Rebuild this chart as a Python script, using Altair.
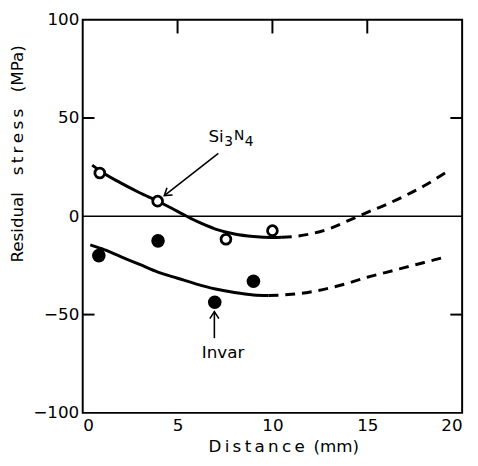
import altair as alt
import pandas as pd

# measured points
si_pts_x = [0.9, 3.95, 7.55, 10.0]
si_pts_y = [22.0, 7.7, -11.7, -7.3]
inv_pts_x = [0.85, 3.97, 6.96, 9.0]
inv_pts_y = [-20.0, -12.5, -43.7, -33.0]

# fitted curves (solid) and extrapolations (dashed)
si_fit_x = [0.5, 1, 2, 3, 4, 5, 6, 7, 8, 9, 10, 10.5]
si_fit_y = [26, 22.5, 17, 12, 7.5, 2.5, -2.5, -6.5, -9, -10.3, -10.8, -10.7]
si_ext_x = [10.5, 11, 12, 13, 14, 15, 16, 17, 18, 19.1]
si_ext_y = [-10.7, -10.4, -9, -6.3, -2.2, 2, 6, 10.5, 15.5, 22]
inv_fit_x = [0.4, 1, 2, 3, 4, 5, 6, 7, 8, 9, 9.8]
inv_fit_y = [-14.5, -16.5, -20.5, -24.5, -28.5, -31.5, -34.5, -37, -38.8, -40, -40.3]
inv_ext_x = [9.8, 11, 12, 13, 14, 15, 16, 17, 18, 19]
inv_ext_y = [-40.3, -39.7, -38.5, -36.5, -34, -31, -28.5, -26, -23.5, -21]

x_ticks = [0, 5, 10, 15, 20]
y_ticks = [-100, -50, 0, 50, 100]
top_inner_ticks = [5, 10, 15]
side_inner_ticks = [-50, 50]

# annotations
si_label_parts = ["Si", "3", "N", "4"]
si_label_pos = [6.63, 40.5]
si_arrow = [7.15, 32.0, 4.3, 10.5]      # x tail, y tail, x head, y head
inv_label = "Invar"
inv_label_pos = [7.4, -69.5]
inv_arrow = [6.94, -62.0, 6.94, -48.5]

x_title = "D\u2009i\u2009s\u2009t\u2009a\u2009n\u2009c\u2009e\u2009 (mm)"
y_title = "Residual\u2002\u2002s\u2009t\u2009r\u2009e\u2009s\u2009s\u2002\u2002(MPa)"

W, H = 386, 400
FONT = "DejaVu Sans"

xs = alt.Scale(domain=[0, 20], nice=False, zero=False)
ys = alt.Scale(domain=[-100, 100], nice=False, zero=False)


def df(x, y):
    return pd.DataFrame({"x": x, "y": y})


def XX():
    return alt.X("x:Q", scale=xs)


def YY():
    return alt.Y("y:Q", scale=ys)


X = alt.X("x:Q", scale=xs,
          axis=alt.Axis(values=x_ticks, tickSize=0, domain=False, grid=False,
                        labelFont=FONT, labelFontSize=17, labelPadding=5,
                        labelColor="black", title=x_title,
                        titleFont=FONT, titleFontSize=17, titleFontWeight="normal",
                        titleX=204, titleY=34, titleAlign="center",
                        titleBaseline="middle", titleColor="black"))
Y = alt.Y("y:Q", scale=ys,
          axis=alt.Axis(values=y_ticks, tickSize=0, domain=False, grid=False,
                        labelFont=FONT, labelFontSize=17, labelPadding=4,
                        labelColor="black", title=y_title,
                        titleFont=FONT, titleFontSize=17, titleFontWeight="normal",
                        titleX=-66, titleY=136, titleAngle=-90, titleAlign="center",
                        titleBaseline="middle", titleColor="black"))

zero = alt.Chart(pd.DataFrame({"y": [0]})).mark_rule(color="black", strokeWidth=1.5).encode(y=YY())

si_fit = alt.Chart(df(si_fit_x, si_fit_y)).mark_line(color="black", strokeWidth=3, interpolate="monotone").encode(x=X, y=Y)
si_ext = alt.Chart(df(si_ext_x, si_ext_y)).mark_line(color="black", strokeWidth=3, strokeDash=[10, 7], interpolate="monotone").encode(x=XX(), y=YY())
inv_fit = alt.Chart(df(inv_fit_x, inv_fit_y)).mark_line(color="black", strokeWidth=3, interpolate="monotone").encode(x=XX(), y=YY())
inv_ext = alt.Chart(df(inv_ext_x, inv_ext_y)).mark_line(color="black", strokeWidth=3, strokeDash=[10, 7], interpolate="monotone").encode(x=XX(), y=YY())

si_pts = alt.Chart(df(si_pts_x, si_pts_y)).mark_point(shape="circle", filled=True, fill="white", stroke="black", strokeWidth=2.8, size=100, opacity=1).encode(x=XX(), y=YY())
inv_pts = alt.Chart(df(inv_pts_x, inv_pts_y)).mark_point(shape="circle", filled=True, color="black", size=190, opacity=1).encode(x=XX(), y=YY())

arrows_df = pd.DataFrame({
    "x": [si_arrow[0], inv_arrow[0]], "y": [si_arrow[1], inv_arrow[1]],
    "x2": [si_arrow[2], inv_arrow[2]], "y2": [si_arrow[3], inv_arrow[3]],
})
shafts = alt.Chart(arrows_df).mark_rule(color="black", strokeWidth=1.6).encode(
    x=XX(), y=YY(), x2="x2:Q", y2="y2:Q")

heads_df = pd.DataFrame({"x": [si_arrow[2], inv_arrow[2]], "y": [si_arrow[3], inv_arrow[3]], "a": [142, 270]})
heads = alt.Chart(heads_df).mark_point(shape="M-1,-0.65L0,0L-1,0.65", filled=False, stroke="black", strokeWidth=1.6, size=200, opacity=1).encode(
    x=XX(), y=YY(), angle=alt.Angle("a:Q", scale=None))

si_df = pd.DataFrame({"x": [si_label_pos[0]], "y": [si_label_pos[1]]})
si_text = [
    alt.Chart(si_df).mark_text(text=si_label_parts[0], font=FONT, fontSize=17, align="left", baseline="middle", dx=0, dy=0, color="black").encode(x=XX(), y=YY()),
    alt.Chart(si_df).mark_text(text=si_label_parts[1], font=FONT, fontSize=14, align="left", baseline="middle", dx=16, dy=5, color="black").encode(x=XX(), y=YY()),
    alt.Chart(si_df).mark_text(text=si_label_parts[2], font=FONT, fontSize=14, align="left", baseline="middle", dx=26, dy=-1, color="black").encode(x=XX(), y=YY()),
    alt.Chart(si_df).mark_text(text=si_label_parts[3], font=FONT, fontSize=14, align="left", baseline="middle", dx=37, dy=5, color="black").encode(x=XX(), y=YY()),
]

inv_text = alt.Chart(pd.DataFrame({"x": [inv_label_pos[0]], "y": [inv_label_pos[1]], "t": [inv_label]})).mark_text(
    font=FONT, fontSize=17, color="black", align="center", baseline="middle").encode(x=XX(), y=YY(), text="t:N")

top_ticks = alt.Chart(pd.DataFrame({"x": top_inner_ticks})).mark_rule(color="black", strokeWidth=2).encode(
    x=XX(), y=alt.value(0), y2=alt.value(14))
left_ticks = alt.Chart(pd.DataFrame({"y": side_inner_ticks})).mark_rule(color="black", strokeWidth=2).encode(
    y=YY(), x=alt.value(0), x2=alt.value(12))
right_ticks = alt.Chart(pd.DataFrame({"y": side_inner_ticks})).mark_rule(color="black", strokeWidth=2).encode(
    y=YY(), x=alt.value(W - 12), x2=alt.value(W))

chart = alt.layer(
    si_fit, zero, si_ext, inv_fit, inv_ext, shafts, heads, si_pts, inv_pts, *si_text, inv_text,
    top_ticks, left_ticks, right_ticks
).properties(
    width=W, height=H,
    autosize=alt.AutoSizeParams(type="none"),
    padding={"left": 76, "top": 8, "right": 8, "bottom": 42},
    background="white",
).configure_view(stroke="black", strokeWidth=2)

chart.save("out.html", embed_options={"renderer": "svg", "actions": False})
